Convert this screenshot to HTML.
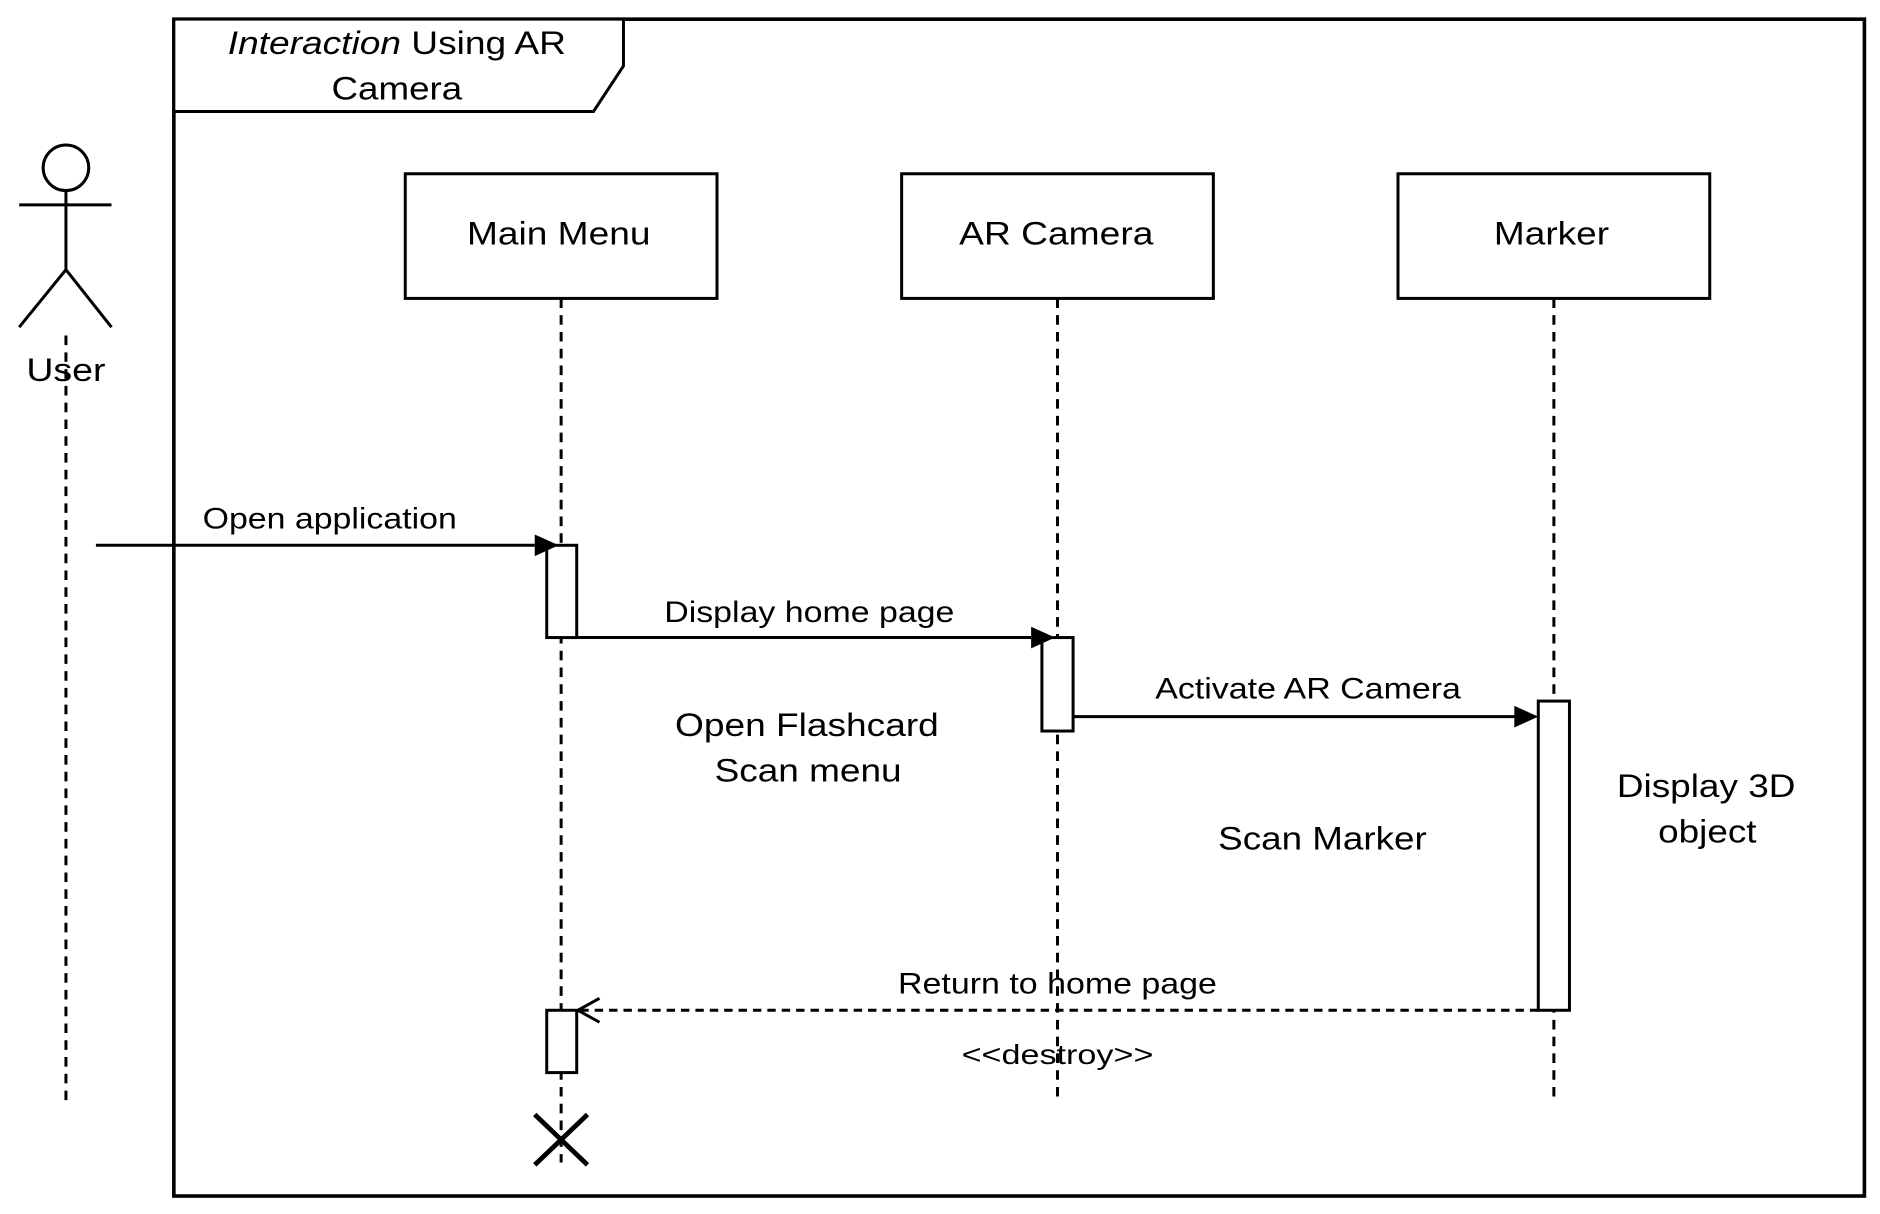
<!DOCTYPE html>
<html><head><style>html,body{margin:0;padding:0;background:#fff;}svg{display:block}</style></head>
<body>
<svg width="1880" height="1214" viewBox="0 0 1568 1013" preserveAspectRatio="none" xmlns="http://www.w3.org/2000/svg" font-family="Liberation Sans, sans-serif" fill="none" stroke="#000">
<rect x="145" y="16" width="1410" height="982" stroke-width="3"/>
<polygon points="145,16 520,16 520,55 495,93 145,93" stroke-width="2.5" fill="#fff"/>
<g fill="#000" stroke="none" font-size="27" text-anchor="middle" lengthAdjust="spacingAndGlyphs">
<text x="331" y="45" textLength="282" lengthAdjust="spacingAndGlyphs"><tspan font-style="italic">Interaction</tspan> Using AR</text>
<text x="331" y="83" textLength="109" lengthAdjust="spacingAndGlyphs">Camera</text>
</g>
<!-- actor -->
<circle cx="55" cy="140" r="19" stroke-width="2.5"/>
<line x1="55" y1="159" x2="55" y2="225" stroke-width="2.5"/>
<line x1="16" y1="171" x2="93" y2="171" stroke-width="2.5"/>
<line x1="55" y1="225" x2="16" y2="273" stroke-width="2.5"/>
<line x1="55" y1="225" x2="93" y2="273" stroke-width="2.5"/>
<g stroke-width="2.5" stroke-dasharray="8,6">
<line x1="55" y1="280" x2="55" y2="920"/>
<line x1="468" y1="249" x2="468" y2="970"/>
<line x1="882" y1="249" x2="882" y2="920"/>
<line x1="1296" y1="249" x2="1296" y2="920"/>
</g>
<g fill="#fff" stroke-width="2.5">
<rect x="338" y="145" width="260" height="104"/>
<rect x="752" y="145" width="260" height="104"/>
<rect x="1166" y="145" width="260" height="104"/>
<rect x="456" y="455" width="25" height="77"/>
<rect x="869" y="532" width="26" height="78"/>
<rect x="1283" y="585" width="26" height="258"/>
<rect x="456" y="843" width="25" height="52"/>
</g>
<g stroke-width="2.5">
<line x1="80" y1="455" x2="446" y2="455"/>
<line x1="481" y1="532" x2="860" y2="532"/>
<line x1="895" y1="598" x2="1273" y2="598"/>
<line x1="1283" y1="843" x2="483" y2="843" stroke-dasharray="7,5"/>
<polyline points="500,833 482,843 500,853"/>
<line x1="446" y1="930" x2="490" y2="972" stroke-width="4"/>
<line x1="490" y1="930" x2="446" y2="972" stroke-width="4"/>
</g>
<g fill="#000" stroke="none">
<polygon points="446,446 466,455 446,464"/>
<polygon points="860,523 880,532 860,541"/>
<polygon points="1263,589 1283,598 1263,607"/>
</g>
<g fill="#000" stroke="none" font-size="27" text-anchor="middle">
<text x="466" y="204" textLength="153" lengthAdjust="spacingAndGlyphs">Main Menu</text>
<text x="881" y="204" textLength="162" lengthAdjust="spacingAndGlyphs">AR Camera</text>
<text x="1294" y="204" textLength="96" lengthAdjust="spacingAndGlyphs">Marker</text>
<text x="55" y="318" textLength="66" lengthAdjust="spacingAndGlyphs">User</text>
<text x="673" y="614" textLength="220" lengthAdjust="spacingAndGlyphs">Open Flashcard</text>
<text x="674" y="652" textLength="156" lengthAdjust="spacingAndGlyphs">Scan menu</text>
<text x="1103" y="709" textLength="174" lengthAdjust="spacingAndGlyphs">Scan Marker</text>
<text x="1423" y="665" textLength="149" lengthAdjust="spacingAndGlyphs">Display 3D</text>
<text x="1424" y="703" textLength="82" lengthAdjust="spacingAndGlyphs">object</text>
</g>
<g fill="#000" stroke="none" font-size="25" text-anchor="middle">
<text x="275" y="441" textLength="212" lengthAdjust="spacingAndGlyphs">Open application</text>
<text x="675" y="519" textLength="242" lengthAdjust="spacingAndGlyphs">Display home page</text>
<text x="1091" y="583" textLength="255" lengthAdjust="spacingAndGlyphs">Activate AR Camera</text>
<text x="882" y="829" textLength="266" lengthAdjust="spacingAndGlyphs">Return to home page</text>
<text x="882" y="888" font-size="23" textLength="160" lengthAdjust="spacingAndGlyphs">&lt;&lt;destroy&gt;&gt;</text>
</g>
</svg>
</body></html>
